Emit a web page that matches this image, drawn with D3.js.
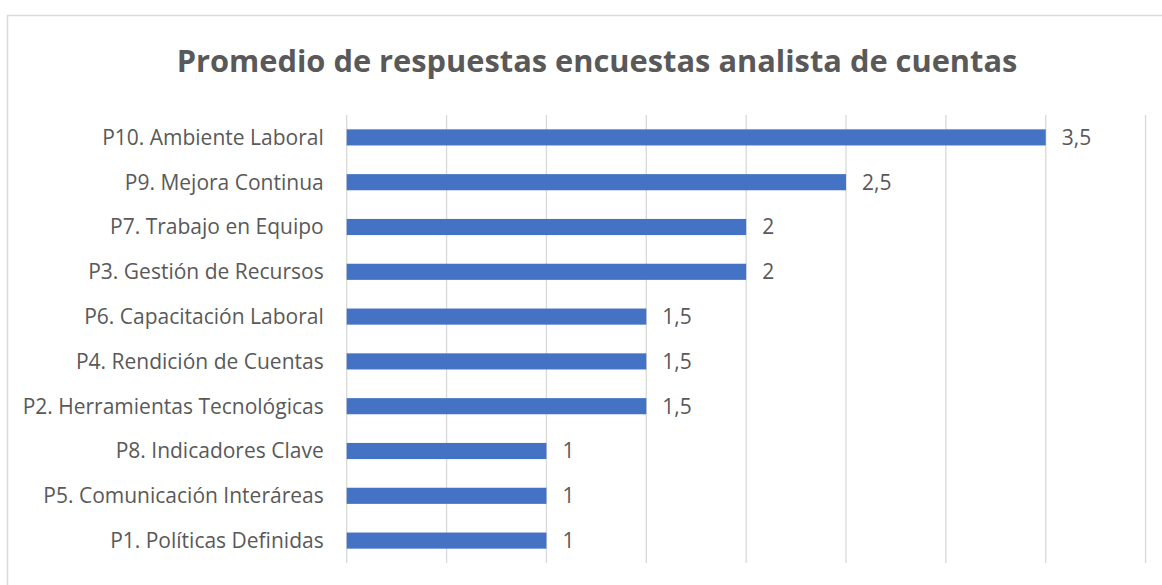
<!DOCTYPE html>
<html>
<head>
<meta charset="utf-8">
<script src="https://cdn.jsdelivr.net/npm/d3@7"></script>
<style>
  html, body { margin: 0; padding: 0; background: #fff; }
  svg { display: block; }
</style>
</head>
<body>
<svg id="chart" width="1162" height="585"></svg>
<script>
(function () {
    "use strict";

    // data, top to bottom as drawn
    var categories = [
        "P10. Ambiente Laboral",
        "P9. Mejora Continua",
        "P7. Trabajo en Equipo",
        "P3. Gestión de Recursos",
        "P6. Capacitación Laboral",
        "P4. Rendición de Cuentas",
        "P2. Herramientas Tecnológicas",
        "P8. Indicadores Clave",
        "P5. Comunicación Interáreas",
        "P1. Políticas Definidas"
    ];
    var values = [3.5, 2.5, 2, 2, 1.5, 1.5, 1.5, 1, 1, 1];
    var xTicks = [0, 0.5, 1, 1.5, 2, 2.5, 3, 3.5, 4];
    var title = "Promedio de respuestas encuestas analista de cuentas";

    var svg = d3.select("#chart");
    var fontFamily = "'Open Sans', sans-serif";
    var textColor = "#595959";

    var locale = d3.formatLocale({ decimal: ",", thousands: ".", grouping: [3], currency: ["", ""] });
    var fmt = locale.format("~g");

    // chart frame (cut off at right/bottom like the source)
    svg.append("rect")
        .attr("x", 7.5).attr("y", 15.5)
        .attr("width", 1200).attr("height", 600)
        .attr("fill", "#fff")
        .attr("stroke", "#d9d9d9")
        .attr("stroke-width", 1.5);

    var plot = { left: 346.7, right: 1145.6, top: 115, bottom: 563 };

    var x = d3.scaleLinear().domain([0, 4]).range([plot.left, plot.right]);
    var y = d3.scaleBand().domain(categories).range([plot.top, plot.bottom]).paddingInner(0.64).paddingOuter(0.32);

    // gridlines
    svg.append("g").selectAll("line")
        .data(xTicks)
        .enter().append("line")
        .attr("x1", function (d) { return x(d); })
        .attr("x2", function (d) { return x(d); })
        .attr("y1", plot.top).attr("y2", plot.bottom)
        .attr("stroke", "#d9d9d9")
        .attr("stroke-width", 1.3);

    // bars
    svg.append("g").selectAll("rect")
        .data(values)
        .enter().append("rect")
        .attr("x", x(0))
        .attr("y", function (d, i) { return y(categories[i]); })
        .attr("width", function (d) { return x(d) - x(0); })
        .attr("height", y.bandwidth())
        .attr("fill", "#4472c4");

    // category labels
    svg.append("g").selectAll("text")
        .data(categories)
        .enter().append("text")
        .attr("x", plot.left - 23)
        .attr("y", function (d) { return y(d) + y.bandwidth() / 2; })
        .attr("dy", "0.35em")
        .attr("text-anchor", "end")
        .attr("font-family", fontFamily)
        .attr("font-size", 21)
        .attr("fill", textColor)
        .text(function (d) { return d; });

    // value labels
    svg.append("g").selectAll("text")
        .data(values)
        .enter().append("text")
        .attr("x", function (d) { return x(d) + 16; })
        .attr("y", function (d, i) { return y(categories[i]) + y.bandwidth() / 2; })
        .attr("dy", "0.35em")
        .attr("font-family", fontFamily)
        .attr("font-size", 21)
        .attr("fill", textColor)
        .text(function (d) { return fmt(d); });

    // title
    svg.append("text")
        .attr("x", 597)
        .attr("y", 72)
        .attr("text-anchor", "middle")
        .attr("font-family", fontFamily)
        .attr("font-weight", "bold")
        .attr("font-size", 30.8)
        .attr("fill", textColor)
        .text(title);
}());
</script>
</body>
</html>
